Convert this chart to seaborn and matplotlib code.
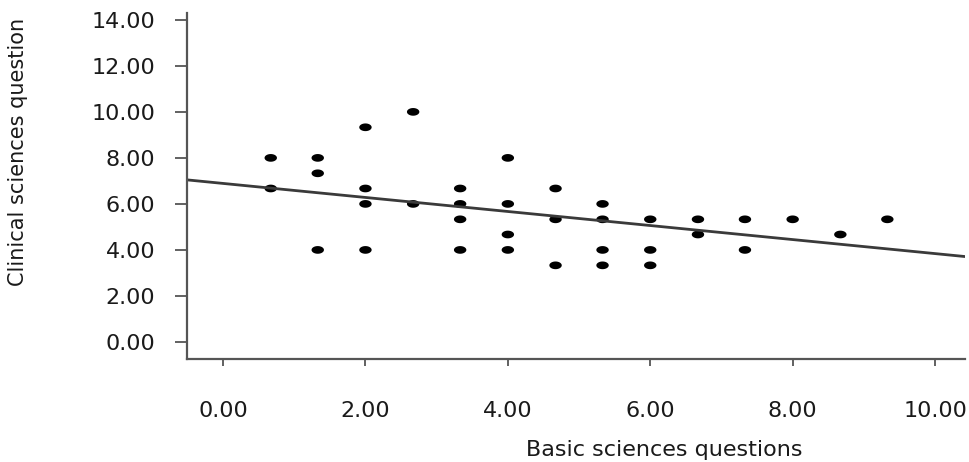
import numpy as np
import pandas as pd
import matplotlib
matplotlib.use("Agg")
import matplotlib.pyplot as plt
from matplotlib.path import Path
import seaborn as sns

# scores (multiples of 2/3)
basic = [0.67, 0.67, 1.33, 1.33, 1.33, 2.0, 2.0, 2.0, 2.0, 2.67, 2.67,
         3.33, 3.33, 3.33, 3.33, 4.0, 4.0, 4.0, 4.0, 4.67, 4.67, 4.67,
         5.33, 5.33, 5.33, 5.33, 6.0, 6.0, 6.0, 6.67, 6.67, 7.33, 7.33,
         8.0, 8.67, 9.33]
clinical = [8.0, 6.67, 8.0, 7.33, 4.0, 9.33, 6.67, 6.0, 4.0, 10.0, 6.0,
            6.67, 6.0, 5.33, 4.0, 8.0, 6.0, 4.67, 4.0, 6.67, 5.33, 3.33,
            6.0, 5.33, 4.0, 3.33, 5.33, 4.0, 3.33, 5.33, 4.67, 5.33, 4.0,
            5.33, 4.67, 5.33]

# fit line
fit_intercept = 6.89
fit_slope = -0.305

xticks = [0, 2, 4, 6, 8, 10]
yticks = [0, 2, 4, 6, 8, 10, 12, 14]

df = pd.DataFrame({"Basic sciences questions": basic,
                   "Clinical sciences question": clinical})

sns.set_style("white")
plt.rcParams["font.family"] = ["DejaVu Sans"]

fig = plt.figure(figsize=(9.7, 4.62), dpi=100)
ax = fig.add_axes([0.1928, 0.223, 0.8020, 0.749])

# slightly flattened dot like the original
t = np.linspace(0, 2 * np.pi, 40)
ellipse = Path(np.column_stack([np.cos(t), 0.62 * np.sin(t)]), closed=True)

sns.scatterplot(data=df, x="Basic sciences questions", y="Clinical sciences question",
                marker=ellipse, s=80, color="black", edgecolor="none", ax=ax)
ax.axline((0, fit_intercept), slope=fit_slope, color="#3a3a3a", linewidth=2)

ax.set_xlim(-0.506, 10.42)
ax.set_ylim(-0.74, 14.3)
ax.set_xticks(xticks)
ax.set_yticks(yticks)
ax.set_xticklabels([f"{v:.2f}" for v in xticks])
ax.set_yticklabels([f"{v:.2f}" for v in yticks])

sns.despine(ax=ax)
for side in ["left", "bottom"]:
    ax.spines[side].set_color("#555555")
    ax.spines[side].set_linewidth(1.6)

ax.tick_params(axis="y", direction="out", length=9, width=1.3, color="#555555",
               pad=14, labelsize=16, labelcolor="#1a1a1a", left=True)
ax.tick_params(axis="x", direction="out", length=5, width=1.3, color="#555555",
               pad=25, labelsize=16, labelcolor="#1a1a1a", bottom=True)

ax.set_xlabel("Basic sciences questions", fontsize=16, color="#1a1a1a")
ax.set_ylabel("Clinical sciences question", fontsize=15, color="#1a1a1a")
ax.xaxis.set_label_coords(0.614, -0.234)
ax.yaxis.set_label_coords(-0.205, 0.598)

fig.savefig("out.png", dpi=100)
